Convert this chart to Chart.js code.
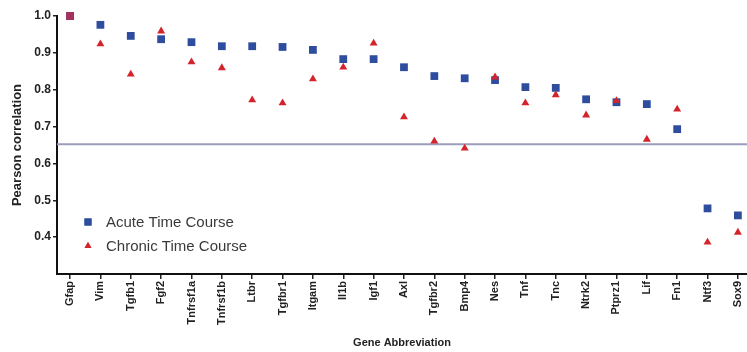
<!DOCTYPE html>
<html>
<head>
<meta charset="utf-8">
<script src="https://cdn.jsdelivr.net/npm/chart.js@4/dist/chart.umd.min.js"></script>
<style>
    html, body { margin: 0; padding: 0; background: #fff; }
    #wrap { width: 747px; height: 352px; }
</style>
</head>
<body>
<div id="wrap"><canvas id="corrChart" width="747" height="352"></canvas></div>
<script>
// Gene categories along the x axis
const genes = ['Gfap', 'Vim', 'Tgfb1', 'Fgf2', 'Tnfrsf1a', 'Tnfrsf1b', 'Ltbr', 'Tgfbr1', 'Itgam', 'Il1b', 'Igf1',
    'Axl', 'Tgfbr2', 'Bmp4', 'Nes', 'Tnf', 'Tnc', 'Ntrk2', 'Ptprz1', 'Lif', 'Fn1', 'Ntf3', 'Sox9'];

// Pearson correlation per gene
const acuteValues = [1.0, 0.976, 0.946, 0.937, 0.929, 0.918, 0.918, 0.916, 0.908, 0.883, 0.883,
    0.861, 0.837, 0.831, 0.826, 0.807, 0.805, 0.774, 0.766, 0.761, 0.693, 0.478, 0.459];
const chronicValues = [1.0, 0.924, 0.842, 0.959, 0.875, 0.859, 0.772, 0.764, 0.829, 0.861, 0.926,
    0.726, 0.660, 0.641, 0.834, 0.764, 0.786, 0.731, 0.770, 0.665, 0.747, 0.386, 0.413];

// Threshold line and y ticks
const threshold = 0.652;
const yTicks = [0.4, 0.5, 0.6, 0.7, 0.8, 0.9, 1.0];

const BLUE = '#2f4d9e';
const RED = '#d3242b';
const MIXED = '#a8305c';
const FONT = "'Liberation Sans', Arial, sans-serif";

const xMin = -0.43, xMax = 22.3;

// Legend drawn inside the plot area, lower left
const insideLegend = {
    id: 'insideLegend',
    afterDraw(chart) {
        const { ctx } = chart;
        const items = [
            { label: 'Acute Time Course', style: 'rect', color: BLUE, r: 5 },
            { label: 'Chronic Time Course', style: 'triangle', color: RED, r: 4 }
        ];
        ctx.save();
        ctx.font = '15px ' + FONT;
        ctx.textBaseline = 'middle';
        items.forEach((it, i) => {
            const y = 222 + i * 24;
            ctx.fillStyle = it.color;
            Chart.helpers.drawPoint(ctx, { pointStyle: it.style, radius: it.r, borderWidth: 0 }, 88, y);
            ctx.fill();
            ctx.fillStyle = '#3a3a3a';
            ctx.fillText(it.label, 106, y + 1);
        });
        ctx.restore();
    }
};

new Chart(document.getElementById('corrChart'), {
    type: 'scatter',
    data: {
        datasets: [
            {
                label: 'Chronic Time Course',
                data: chronicValues.map((v, i) => ({ x: i, y: v })),
                pointStyle: chronicValues.map((v, i) => i === 0 ? 'rect' : 'triangle'),
                pointRadius: chronicValues.map((v, i) => i === 0 ? 5.5 : 4.6),
                backgroundColor: chronicValues.map((v, i) => i === 0 ? MIXED : RED),
                borderWidth: 0,
                clip: false,
                order: 0
            },
            {
                label: 'Acute Time Course',
                data: acuteValues.map((v, i) => ({ x: i, y: v })),
                pointStyle: 'rect',
                pointRadius: 5.5,
                backgroundColor: BLUE,
                borderWidth: 0,
                clip: false,
                order: 1
            },
            {
                type: 'line',
                label: 'threshold',
                data: [{ x: xMin, y: threshold }, { x: xMax, y: threshold }],
                borderColor: '#9c9cbc',
                borderWidth: 2,
                pointRadius: 0,
                order: 2
            }
        ]
    },
    options: {
        responsive: false,
        animation: false,
        layout: { autoPadding: false, padding: { top: 16, right: 0, left: 10, bottom: 0 } },
        plugins: { legend: { display: false }, tooltip: { enabled: false } },
        scales: {
            x: {
                type: 'linear',
                min: xMin,
                max: xMax,
                afterFit: (scale) => { scale.height = 78; scale.paddingRight = 0; scale.paddingLeft = 0; },
                afterBuildTicks: (scale) => { scale.ticks = genes.map((g, i) => ({ value: i })); },
                ticks: {
                    autoSkip: false,
                    minRotation: 90,
                    maxRotation: 90,
                    padding: 2,
                    color: '#222',
                    font: { family: FONT, size: 11, weight: 'bold' },
                    callback: (v) => genes[v]
                },
                grid: { display: true, drawOnChartArea: false, drawTicks: true, tickLength: 5, color: '#222', lineWidth: 1.5 },
                border: { color: '#111', width: 2 },
                title: {
                    display: true,
                    text: 'Gene Abbreviation',
                    color: '#222',
                    font: { family: FONT, size: 11, weight: 'bold' },
                    padding: { top: 0, bottom: 2 }
                }
            },
            y: {
                min: 0.3,
                max: 1.0,
                afterFit: (scale) => { scale.width = 47; scale.paddingTop = 0; scale.paddingBottom = 0; },
                afterBuildTicks: (scale) => { scale.ticks = yTicks.map(v => ({ value: v })); },
                ticks: {
                    padding: 2,
                    color: '#222',
                    font: { family: FONT, size: 12, weight: 'bold' },
                    callback: (v) => v.toFixed(1)
                },
                grid: { display: true, drawOnChartArea: false, drawTicks: true, tickLength: 4, color: '#222', lineWidth: 1.5 },
                border: { color: '#111', width: 2 },
                title: {
                    display: true,
                    text: 'Pearson correlation',
                    color: '#222',
                    font: { family: FONT, size: 13, weight: 'bold' },
                    padding: { top: 0, bottom: 2 }
                }
            }
        }
    },
    plugins: [insideLegend]
});
</script>
</body>
</html>
